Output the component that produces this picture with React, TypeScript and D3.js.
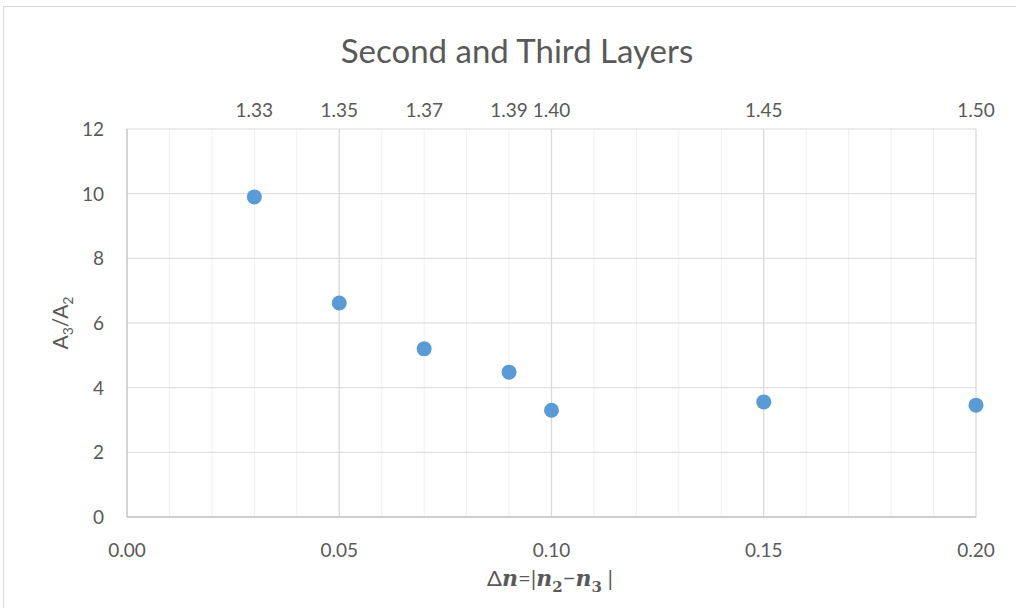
import React, { useEffect, useRef } from 'react'
import * as d3 from 'd3'

// data
const deltaN = [0.03, 0.05, 0.07, 0.09, 0.10, 0.15, 0.20]
const ratio = [9.9, 6.62, 5.2, 4.48, 3.3, 3.56, 3.46]
const topLabels = ['1.33', '1.35', '1.37', '1.39', '1.40', '1.45', '1.50']
const yTicks = [0, 2, 4, 6, 8, 10, 12]
const xTicks = [0, 0.05, 0.1, 0.15, 0.2]

const W = 1016
const H = 608
const FONT = 'Lato, "Open Sans", sans-serif'

export default function App() {
  const ref = useRef<SVGSVGElement>(null)

  useEffect(() => {
    const svg = d3.select(ref.current)
    svg.selectAll('*').remove()

    const x = d3.scaleLinear().domain([0, 0.2]).range([127, 976])
    const y = d3.scaleLinear().domain([0, 12]).range([517, 129])

    // chart frame
    svg.append('rect')
      .attr('x', 3.5).attr('y', 6.5)
      .attr('width', W).attr('height', H)
      .attr('fill', 'white').attr('stroke', '#d9d9d9')

    // minor vertical grid
    const minor = d3.range(1, 20).map(i => i / 100).filter(v => Math.round(v * 100) % 5 !== 0)
    svg.append('g').selectAll('line').data(minor).join('line')
      .attr('x1', d => x(d)).attr('x2', d => x(d))
      .attr('y1', y(12)).attr('y2', y(0))
      .attr('stroke', '#f0f0f0').attr('stroke-width', 1)

    // horizontal grid
    svg.append('g').selectAll('line').data(yTicks.slice(1)).join('line')
      .attr('x1', x(0)).attr('x2', x(0.2))
      .attr('y1', d => y(d)).attr('y2', d => y(d))
      .attr('stroke', '#d9d9d9').attr('stroke-width', 1)

    // major vertical grid
    svg.append('g').selectAll('line').data(xTicks.slice(1)).join('line')
      .attr('x1', d => x(d)).attr('x2', d => x(d))
      .attr('y1', y(12)).attr('y2', y(0))
      .attr('stroke', '#d9d9d9').attr('stroke-width', 1.3)

    // axes lines
    svg.append('line')
      .attr('x1', x(0)).attr('x2', x(0)).attr('y1', y(12)).attr('y2', y(0))
      .attr('stroke', '#bfbfbf').attr('stroke-width', 1.3)
    svg.append('line')
      .attr('x1', x(0)).attr('x2', x(0.2)).attr('y1', y(0)).attr('y2', y(0))
      .attr('stroke', '#bfbfbf').attr('stroke-width', 1.3)

    const tickStyle = (s: any) => s
      .attr('font-family', FONT).attr('font-size', 19).attr('fill', '#595959')

    svg.append('g').selectAll('text').data(yTicks).join('text')
      .attr('x', 104).attr('y', d => y(d) + 7)
      .attr('text-anchor', 'end')
      .text(d => d)
      .call(tickStyle)

    svg.append('g').selectAll('text').data(xTicks).join('text')
      .attr('x', d => x(d)).attr('y', 557)
      .attr('text-anchor', 'middle')
      .text(d => d.toFixed(2))
      .call(tickStyle)

    svg.append('g').selectAll('text').data(deltaN).join('text')
      .attr('x', d => x(d)).attr('y', 117)
      .attr('text-anchor', 'middle')
      .text((d, i) => topLabels[i])
      .call(tickStyle)

    // points
    svg.append('g').selectAll('circle').data(deltaN).join('circle')
      .attr('cx', d => x(d)).attr('cy', (d, i) => y(ratio[i]))
      .attr('r', 7.5)
      .attr('fill', '#5b9bd5')

    // title
    svg.append('text')
      .attr('x', 517).attr('y', 63)
      .attr('text-anchor', 'middle')
      .attr('font-family', FONT).attr('font-size', 33).attr('fill', '#595959')
      .text('Second and Third Layers')

    // y label
    const yl = svg.append('text')
      .attr('transform', `translate(68, ${y(6)}) rotate(-90)`)
      .attr('text-anchor', 'middle')
      .attr('font-family', FONT).attr('font-size', 21).attr('fill', '#595959')
    yl.append('tspan').text('A')
    yl.append('tspan').attr('dy', 5).attr('font-size', 14).text('3')
    yl.append('tspan').attr('dy', -5).text('/A')
    yl.append('tspan').attr('dy', 5).attr('font-size', 14).text('2')

    // x label
    const xl = svg.append('text')
      .attr('x', 550).attr('y', 586)
      .attr('text-anchor', 'middle')
      .attr('font-size', 22).attr('fill', '#595959')
      .attr('font-family', '"DejaVu Serif", serif')
    const nStyle = (t: any) => t.attr('font-weight', 'bold').attr('font-style', 'italic')
    xl.append('tspan').attr('font-family', FONT).text('Δ')
    xl.append('tspan').call(nStyle).text('n')
    xl.append('tspan').attr('font-family', FONT).text('=|')
    xl.append('tspan').call(nStyle).text('n')
    xl.append('tspan').attr('dy', 6).attr('font-size', 15).attr('font-weight', 'bold').text('2')
    xl.append('tspan').attr('dy', -6).attr('font-family', FONT).text('−')
    xl.append('tspan').call(nStyle).text('n')
    xl.append('tspan').attr('dy', 6).attr('font-size', 15).attr('font-weight', 'bold').text('3')
    xl.append('tspan').attr('dy', -6).attr('font-family', FONT).text(' |')
  }, [])

  return (
    <svg ref={ref} width={W} height={H}
      style={{ position: 'absolute', left: 0, top: 0, background: 'white' }} />
  )
}
